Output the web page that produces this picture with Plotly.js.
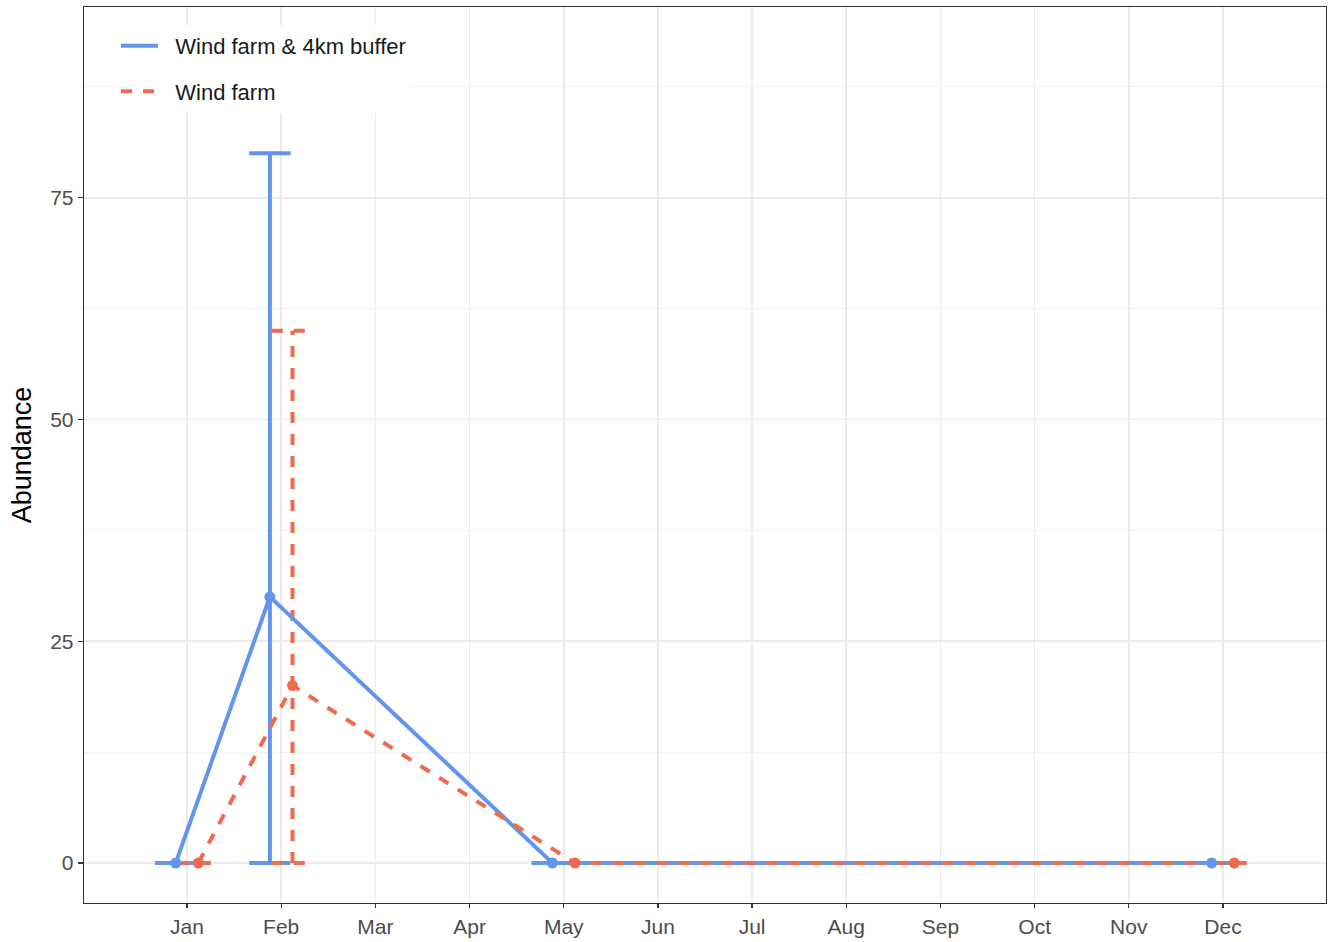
<!DOCTYPE html>
<html>
<head>
<meta charset="utf-8">
<script src="https://cdn.plot.ly/plotly-3.0.1.min.js"></script>
<style>html,body{margin:0;padding:0;background:#fff;}#chart{width:1333px;height:942px;}</style>
</head>
<body>
<div id="chart"></div>
<script>
// ---- data ----
const monthLabels = ['Jan','Feb','Mar','Apr','May','Jun','Jul','Aug','Sep','Oct','Nov','Dec'];
const monthNumbers = [1,2,3,4,5,6,7,8,9,10,11,12];
const obsMonths = [1, 2, 5, 12];
const bufferName = 'Wind farm & 4km buffer';
const bufferMean = [0, 30, 0, 0];
const bufferLower = [0, 0, 0, 0];
const bufferUpper = [0, 80, 0, 0];
const farmName = 'Wind farm';
const farmMean = [0, 20, 0, 0];
const farmLower = [0, 0, 0, 0];
const farmUpper = [0, 60, 0, 0];
const yTickVals = [0, 25, 50, 75];
const yMinorVals = [12.5, 37.5, 62.5, 87.5];

// ---- styling ----
const blue = '#6495ED';
const red = '#EE6A50';
const dodge = 0.12;
const capHalf = 0.22;
const lw = 4;
const dashStyle = '11px,11px';
const pad = '\u00a0\u00a0';

function errorPaths(xs, lo, hi) {
  const x = [], y = [];
  xs.forEach((xv, i) => {
    x.push(xv, xv, null); y.push(lo[i], hi[i], null);
    x.push(xv - capHalf, xv + capHalf, null); y.push(hi[i], hi[i], null);
    x.push(xv - capHalf, xv + capHalf, null); y.push(lo[i], lo[i], null);
  });
  return {x, y};
}

const bx = obsMonths.map(m => m - dodge);
const rx = obsMonths.map(m => m + dodge);
const be = errorPaths(bx, bufferLower, bufferUpper);
const re = errorPaths(rx, farmLower, farmUpper);

const traces = [
  {x: be.x, y: be.y, mode: 'lines', line: {color: blue, width: lw}, showlegend: false, hoverinfo: 'skip'},
  {x: re.x, y: re.y, mode: 'lines', line: {color: red, width: lw, dash: dashStyle}, showlegend: false, hoverinfo: 'skip'},
  {x: bx, y: bufferMean, mode: 'lines', name: pad + bufferName, legendgroup: 'a', line: {color: blue, width: lw}},
  {x: rx, y: farmMean, mode: 'lines', name: pad + farmName, legendgroup: 'b', line: {color: red, width: lw, dash: dashStyle}},
  {x: bx, y: bufferMean, mode: 'markers', marker: {color: blue, size: 11}, showlegend: false},
  {x: rx, y: farmMean, mode: 'markers', marker: {color: red, size: 11}, showlegend: false}
];

const font = 'Liberation Sans, Arial, Helvetica, sans-serif';
const layout = {
  width: 1333, height: 942,
  margin: {l: 84, r: 7, t: 7, b: 39},
  paper_bgcolor: '#ffffff', plot_bgcolor: '#ffffff',
  font: {family: font, color: '#4D4D4D', size: 21},
  showlegend: true,
  legend: {
    x: 0.0258, y: 0.98, xanchor: 'left', yanchor: 'top',
    bgcolor: '#ffffff', borderwidth: 0,
    font: {family: font, size: 22, color: '#1a1a1a'},
    traceorder: 'grouped', tracegroupgap: 14,
    itemwidth: 37
  },
  xaxis: {
    range: [-0.094, 13.094],
    tickvals: monthNumbers, ticktext: monthLabels,
    showgrid: true, gridcolor: '#EBEBEB', gridwidth: 1.6,
    zeroline: false,
    showline: true, mirror: true, linecolor: '#333333', linewidth: 1.3,
    ticks: 'outside', ticklen: 4, tickcolor: '#333333', tickwidth: 1.2,
    tickfont: {size: 21, color: '#4D4D4D'}
  },
  yaxis: {
    range: [-4.51, 96.5],
    tickvals: yTickVals,
    showgrid: true, gridcolor: '#EBEBEB', gridwidth: 1.6,
    minor: {tickvals: yMinorVals, showgrid: true, gridcolor: '#F3F3F3', gridwidth: 1, ticks: ''},
    zeroline: false,
    showline: true, mirror: true, linecolor: '#333333', linewidth: 1.3,
    ticks: 'outside', ticklen: 5, tickcolor: '#333333', tickwidth: 1.2,
    tickfont: {size: 21, color: '#4D4D4D'},
    title: {text: 'Abundance', font: {size: 27, color: '#000000'}, standoff: 10}
  }
};

Plotly.newPlot('chart', traces, layout, {displayModeBar: false, staticPlot: true});
</script>
</body>
</html>
